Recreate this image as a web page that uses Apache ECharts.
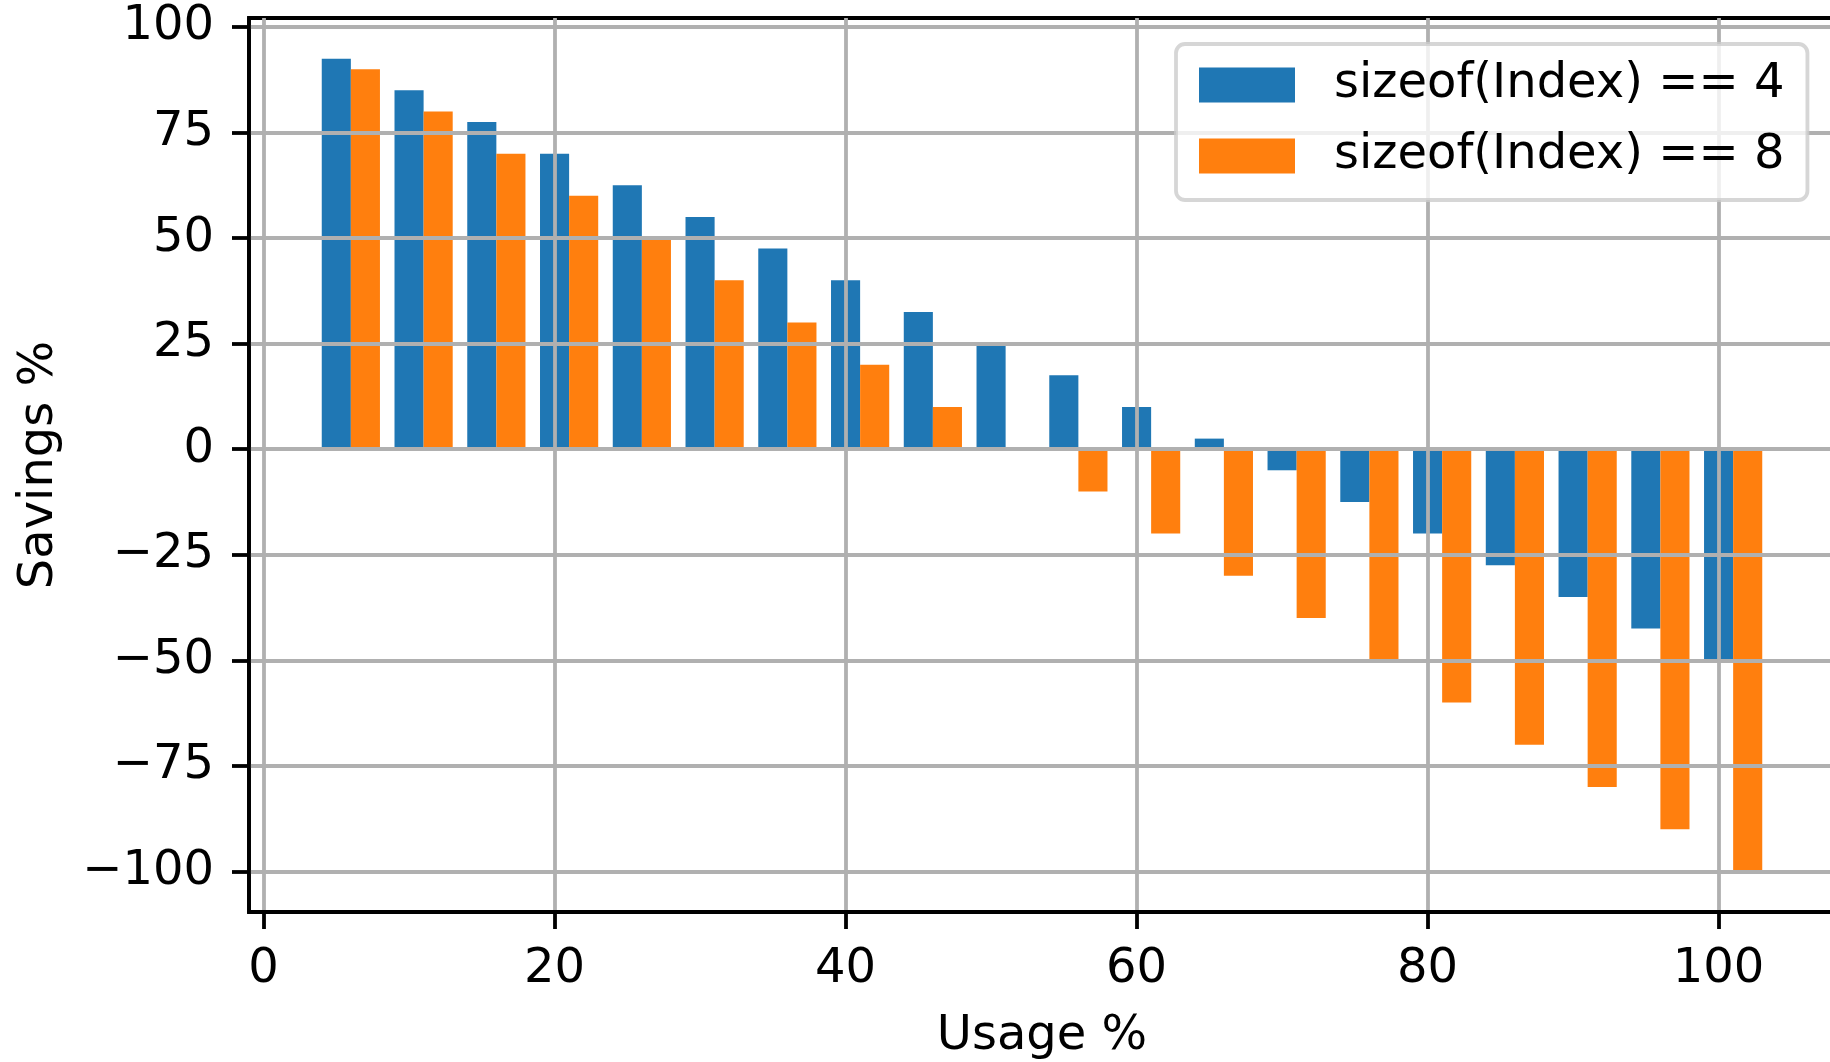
<!DOCTYPE html>
<html><head><meta charset="utf-8">
<script src="https://cdn.jsdelivr.net/npm/echarts@6/dist/echarts.min.js"></script>
<style>html,body{margin:0;padding:0;background:#fff}#c{width:1830px;height:1062px}</style>
</head><body><div id="c"></div>
<script>
const usage = [5,10,15,20,25,30,35,40,45,50,55,60,65,70,75,80,85,90,95,100];
const savings4 = [92.5,85,77.5,70,62.5,55,47.5,40,32.5,25,17.5,10,2.5,-5,-12.5,-20,-27.5,-35,-42.5,-50];
const savings8 = [90,80,70,60,50,40,30,20,10,0,-10,-20,-30,-40,-50,-60,-70,-80,-90,-100];
const xTicks = [0,20,40,60,80,100];
const yTicks = [-100,-75,-50,-25,0,25,50,75,100];
const seriesNames = ['sizeof(Index) == 4','sizeof(Index) == 8'];
const colors = ['#1f77b4','#ff7f0e'];

const FONT = 'DejaVu Sans';
const FS = 48;
const LW = 3.8;

function makeRender(off) {
  return function (params, api) {
    const x = api.value(0), v = api.value(1);
    const a = api.coord([x + off - 1, v]);
    const b = api.coord([x + off + 1, 0]);
    return {
      type: 'rect',
      shape: { x: a[0], y: Math.min(a[1], b[1]), width: b[0] - a[0], height: Math.abs(b[1] - a[1]) },
      style: { fill: api.visual('color') }
    };
  };
}
const fmt = v => String(v).replace('-', '\u2212');

const chart = echarts.init(document.getElementById('c'), null, { renderer: 'canvas' });
chart.setOption({
  animation: false,
  backgroundColor: '#fff',
  grid: { left: 249, top: 18, width: 1586, height: 894, outerBoundsMode: 'none', containLabel: false,
          show: true, borderColor: '#000', borderWidth: LW, backgroundColor: 'transparent' },
  legend: {
    orient: 'vertical', left: 1176, top: 44, z: 10,
    data: seriesNames.map((n, i) => ({ name: n, icon: 'rect', itemStyle: { color: colors[i] } })),
    itemWidth: 96, itemHeight: 35, itemGap: 21,
    padding: [16, 23, 19, 23],
    backgroundColor: 'rgba(255,255,255,0.8)', borderColor: 'rgba(204,204,204,0.8)', borderWidth: LW, borderRadius: 9,
    textStyle: { fontFamily: FONT, fontSize: FS, color: '#000', lineHeight: 50, padding: [0, 0, 0, 34] }
  },
  xAxis: {
    type: 'value', min: -1, max: 108, z: 3,
    name: 'Usage %', nameLocation: 'middle', nameGap: 101,
    nameTextStyle: { fontFamily: FONT, fontSize: FS, color: '#000' },
    axisLine: { show: true, onZero: false, lineStyle: { color: '#000', width: LW } },
    axisTick: { show: true, length: 17, customValues: xTicks, lineStyle: { color: '#000', width: LW } },
    axisLabel: { customValues: xTicks, fontFamily: FONT, fontSize: FS, color: '#000', margin: 34, formatter: fmt },
    splitLine: { show: true, lineStyle: { color: '#b0b0b0', width: LW } }
  },
  yAxis: {
    type: 'value', min: -109.625, max: 102.125, z: 3,
    name: 'Savings %', nameLocation: 'middle', nameGap: 185, nameRotate: 90,
    nameTextStyle: { fontFamily: FONT, fontSize: FS, color: '#000' },
    axisLine: { show: true, onZero: false, lineStyle: { color: '#000', width: LW } },
    axisTick: { show: true, length: 17, customValues: yTicks, lineStyle: { color: '#000', width: LW } },
    axisLabel: { customValues: yTicks, fontFamily: FONT, fontSize: FS, color: '#000', margin: 35, formatter: fmt },
    splitLine: { show: true, lineStyle: { color: '#b0b0b0', width: LW } }
  },
  series: [
    { name: seriesNames[0], type: 'custom', z: 1, color: colors[0], itemStyle: { color: colors[0] },
      encode: { x: 0, y: 1 }, renderItem: makeRender(0), data: usage.map((u, i) => [u, savings4[i]]) },
    { name: seriesNames[1], type: 'custom', z: 1, color: colors[1], itemStyle: { color: colors[1] },
      encode: { x: 0, y: 1 }, renderItem: makeRender(2), data: usage.map((u, i) => [u, savings8[i]]) }
  ]
});
</script></body></html>
